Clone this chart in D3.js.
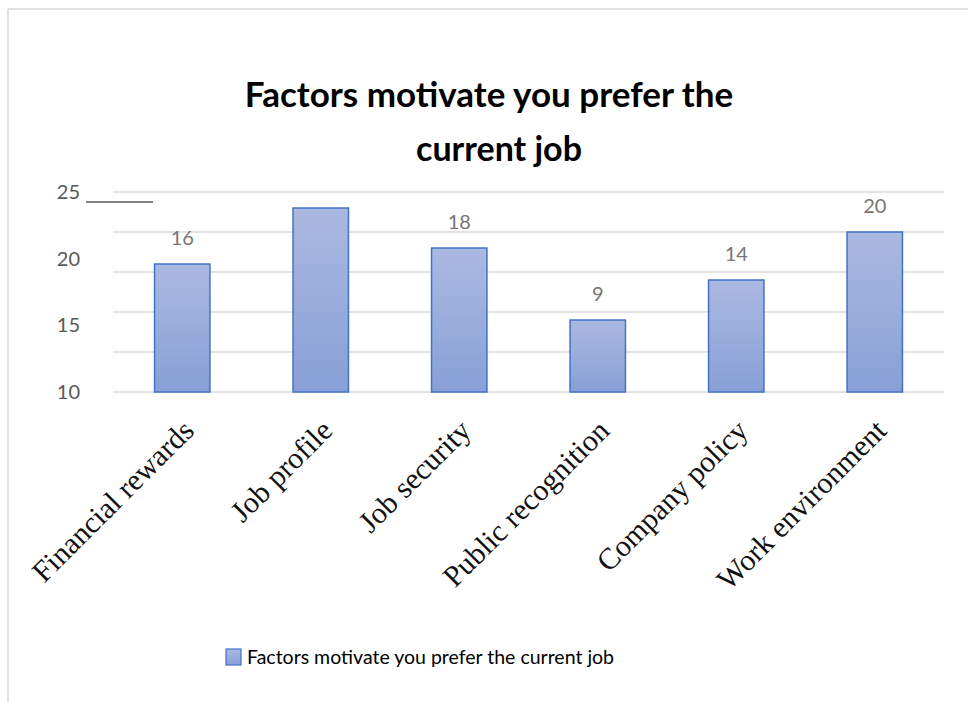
<!DOCTYPE html>
<html><head><meta charset="utf-8">
<script src="https://cdn.jsdelivr.net/npm/d3@7/dist/d3.min.js"></script>
<style>body{margin:0;background:#fff}svg{display:block}</style>
</head><body>
<svg id="c" width="968" height="702"></svg>
<script>
const categories = ["Financial rewards","Job profile","Job security","Public recognition","Company policy","Work environment"];
const values = [16,23,18,9,14,20];
const dataLabels = ["16","","18","9","14","20"];
const gridTicks = [0,5,10,15,20,25];
const yTickLabels = [25,20,15,10];
const titleLines = ["Factors motivate you prefer the","current job"];
const legendText = "Factors motivate you prefer the current job";

(function(){
const svg = d3.select("#c");
const W = 968, H = 702;
const pL = 113, pR = 944, pT = 192, pB = 392;

// frame
svg.append("line").attr("x1",8).attr("x2",W).attr("y1",9).attr("y2",9).attr("stroke","#d9d9d9").attr("stroke-width",1.5);
svg.append("line").attr("x1",8).attr("x2",8).attr("y1",9).attr("y2",H).attr("stroke","#d9d9d9").attr("stroke-width",1.5);

const defs = svg.append("defs");
const g = defs.append("linearGradient").attr("id","bg").attr("x1",0).attr("y1",0).attr("x2",0).attr("y2",1);
g.append("stop").attr("offset","0%").attr("stop-color","#aab9e1");
g.append("stop").attr("offset","100%").attr("stop-color","#88a0d7");

const x = d3.scaleBand().domain(categories).range([pL,pR]).paddingInner(0.6).paddingOuter(0.3);
const y = d3.scaleLinear().domain([0,25]).range([pB,pT]);
const yLab = d3.scaleLinear().domain([10,25]).range([pB,pT]);

// gridlines
svg.append("g").selectAll("line").data(gridTicks).join("line")
  .attr("x1",pL).attr("x2",pR).attr("y1",d=>y(d)).attr("y2",d=>y(d))
  .attr("stroke","#d9d9d9").attr("stroke-width",1.5);

// y tick labels
svg.append("g").selectAll("text").data(yTickLabels).join("text")
  .attr("x",80).attr("y",d=>yLab(d)).attr("dy","0.35em").attr("text-anchor","end")
  .attr("font-family","Lato, sans-serif").attr("font-size",20).attr("fill","#595959")
  .text(d=>d);

// short dark line
svg.append("line").attr("x1",86).attr("x2",153).attr("y1",202).attr("y2",202).attr("stroke","#595959").attr("stroke-width",1.5);

// bars
svg.append("g").selectAll("rect").data(values).join("rect")
  .attr("x",(d,i)=>x(categories[i])).attr("width",x.bandwidth())
  .attr("y",d=>y(d)).attr("height",d=>y(0)-y(d))
  .attr("fill","url(#bg)").attr("stroke","#4472c4").attr("stroke-width",1.5);

// data labels
svg.append("g").selectAll("text").data(values).join("text")
  .attr("x",(d,i)=>x(categories[i])+x.bandwidth()/2).attr("y",d=>y(d)-26)
  .attr("dy","0.35em").attr("text-anchor","middle")
  .attr("font-family","Lato, sans-serif").attr("font-size",20).attr("fill","#767676")
  .text((d,i)=>dataLabels[i]);

// x labels
svg.append("g").selectAll("text").data(categories).join("text")
  .attr("transform",d=>`translate(${x(d)+x.bandwidth()/2+6},${pB+33}) rotate(-45)`)
  .attr("text-anchor","end").attr("dy","0.35em")
  .attr("font-family","'Liberation Serif', 'Times New Roman', serif").attr("font-size",30).attr("fill","#111")
  .text(d=>d);

// title
svg.append("g").selectAll("text").data(titleLines).join("text")
  .attr("x",(d,i)=> i===0 ? 489 : 499).attr("y",(d,i)=>107+i*54).attr("text-anchor","middle")
  .attr("font-family","Lato, sans-serif").attr("font-weight","bold")
  .attr("font-size",(d,i)=> i===0 ? 35 : 34).attr("fill","#000")
  .text(d=>d);

// legend
svg.append("rect").attr("x",226).attr("y",649).attr("width",15).attr("height",16)
  .attr("fill","url(#bg)").attr("stroke","#4472c4").attr("stroke-width",1.2);
svg.append("text").attr("x",247).attr("y",657).attr("dy","0.35em")
  .attr("font-family","Lato, sans-serif").attr("font-size",19.5).attr("fill","#000").text(legendText);
})();
</script>
</body></html>
